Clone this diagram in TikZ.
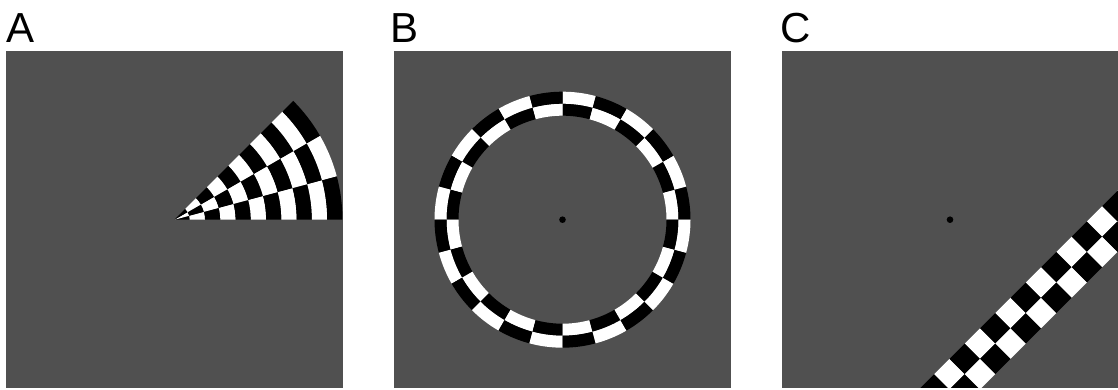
\documentclass[tikz,border=0pt]{standalone}
\usepackage{fontspec}
\setmainfont{Liberation Sans}
\definecolor{panelgray}{RGB}{80,80,80}
\begin{document}
\begin{tikzpicture}[x=1pt,y=1pt,
  panel/.style={fill=panelgray},
  lbl/.style={anchor=base west, inner sep=0pt, font=\fontsize{42}{42}\selectfont},
  fixdot/.style={fill=black}]
\useasboundingbox (0,0) rectangle (1118,390);
\fill[white] (0,0) rectangle (1118,390);
% labels
\node[lbl] (labA) at (6.5,347) {A};
\node[lbl] (labB) at (390,347) {B};
\node[lbl] (labC) at (780.5,347) {C};
% ---------- Panel A: wedge ----------
\fill[panel] (6,2) rectangle (343,338.5);
\begin{scope}[shift={(174.5,170.3)}]
\foreach \i in {0,...,10}{
  \foreach \j in {0,1,2}{
    \pgfmathsetmacro\ri{max(\i*15.27,0.01)}
    \pgfmathsetmacro\ro{(\i+1)*15.27}
    \pgfmathsetmacro\angA{\j*15}
    \pgfmathsetmacro\angB{(\j+1)*15}
    \pgfmathtruncatemacro\pc{mod(\i+\j,2)}
    \def\col{black}\ifnum\pc=1 \def\col{white}\fi
    \fill[\col] (\angA:\ri) arc[start angle=\angA, end angle=\angB, radius=\ri]
      -- (\angB:\ro) arc[start angle=\angB, end angle=\angA, radius=\ro] -- cycle;
  }
}
\end{scope}
% ---------- Panel B: ring ----------
\fill[panel] (394,2) rectangle (731,338.5);
\begin{scope}[shift={(562.5,170.3)}]
\foreach \j in {0,...,23}{
  \pgfmathsetmacro\angA{\j*15}
  \pgfmathsetmacro\angB{(\j+1)*15}
  \pgfmathtruncatemacro\pc{mod(\j,2)}
  \def\colo{black}\def\coli{white}
  \ifnum\pc=1 \def\colo{white}\def\coli{black}\fi
  \fill[\coli] (\angA:104) arc[start angle=\angA, end angle=\angB, radius=104]
    -- (\angB:116) arc[start angle=\angB, end angle=\angA, radius=116] -- cycle;
  \fill[\colo] (\angA:116) arc[start angle=\angA, end angle=\angB, radius=116]
    -- (\angB:128) arc[start angle=\angB, end angle=\angA, radius=128] -- cycle;
}
\fill[fixdot] (0,0) circle[radius=3.3];
\end{scope}
% ---------- Panel C: diagonal bar ----------
\fill[panel] (782,2) rectangle (1118,338.5);
\begin{scope}
\clip (782,2) rectangle (1118,338.5);
\begin{scope}[shift={(950,170.3)}, rotate=45]
\foreach \k in {-12,...,11}{
  \pgfmathsetmacro\pa{9.3+\k*21.6}
  \pgfmathsetmacro\pb{9.3+(\k+1)*21.6}
  \pgfmathtruncatemacro\pc{mod(\k+100,2)}
  \def\colu{white}\def\coll{black}
  \ifnum\pc=1 \def\colu{black}\def\coll{white}\fi
  \fill[\colu] (\pa,-119.6) rectangle (\pb,-98);
  \fill[\coll] (\pa,-141.2) rectangle (\pb,-119.6);
}
\end{scope}
\end{scope}
\fill[fixdot] (950,170.3) circle[radius=3.3];
\end{tikzpicture}
\end{document}
